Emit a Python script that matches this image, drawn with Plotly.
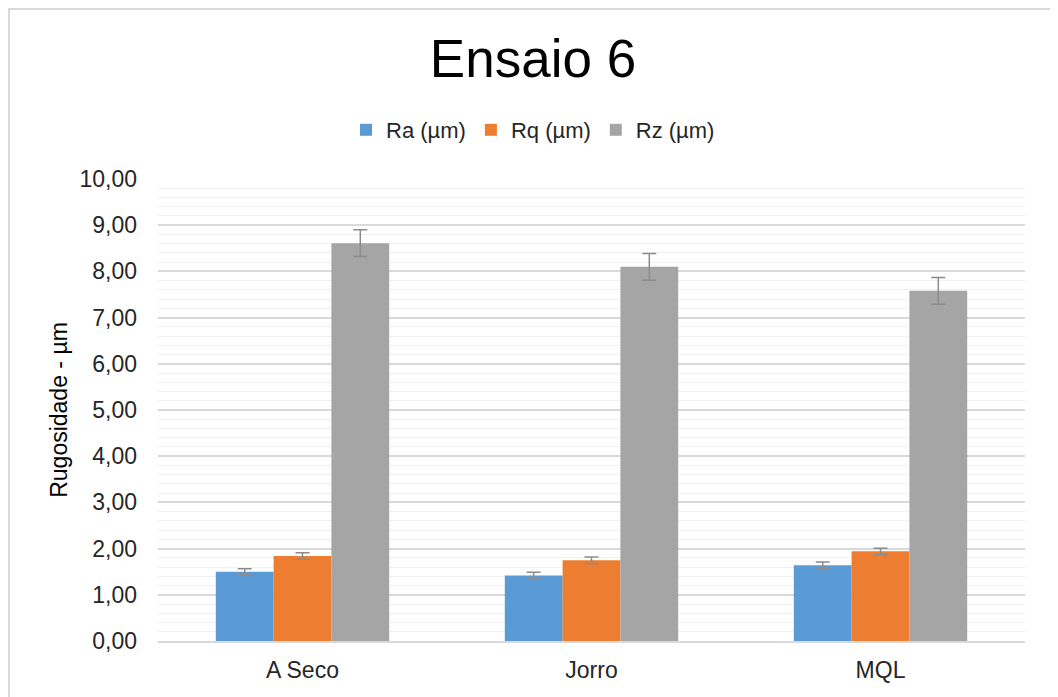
import plotly.graph_objects as go

categories = ["A Seco", "Jorro", "MQL"]
ra = [1.50, 1.42, 1.64]
rq = [1.84, 1.75, 1.94]
rz = [8.61, 8.10, 7.58]
ra_err = [0.065, 0.07, 0.07]
rq_err = [0.07, 0.07, 0.07]
rz_err = [0.29, 0.29, 0.29]
series_names = ["Ra (µm)", "Rq (µm)", "Rz (µm)"]
colors = ["#5B9BD5", "#ED7D31", "#A5A5A5"]
y_ticks = [0, 1, 2, 3, 4, 5, 6, 7, 8, 9, 10]

# page has an 8px body margin; figure sized to fill the remaining window
W, H = 1050, 689
L, R, T, B = 150, 33, 171, 56

fig = go.Figure()
for name, vals, errs, col in zip(series_names, [ra, rq, rz], [ra_err, rq_err, rz_err], colors):
    fig.add_trace(go.Bar(
        x=categories, y=vals, name=name,
        marker=dict(color=col, line=dict(width=0)),
        error_y=dict(type="data", array=errs, visible=True,
                     color="#8C8C8C", thickness=1.5, width=7),
    ))

pw = W - L - R
ph = H - T - B
def px2x(px):
    return (px - L) / pw
def py2y(py):
    return (H - B - py) / ph

fig.update_layout(
    width=W, height=H,
    margin=dict(l=L, r=R, t=T, b=B),
    paper_bgcolor="white", plot_bgcolor="white",
    separators=",.",
    font=dict(family="Liberation Sans, Arial, sans-serif", color="#262626", size=23),
    barmode="group", bargap=0.4, bargroupgap=0,
    title=dict(text="Ensaio 6", x=0.5, xanchor="center", xref="container",
               y=1 - 50 / H, yanchor="middle", yref="container",
               font=dict(size=53, color="#000000")),
    legend=dict(orientation="h", x=525 / W, xanchor="center", xref="container",
                y=1 - 122 / H, yanchor="middle", yref="container",
                font=dict(size=22, color="#262626"),
                itemwidth=30, traceorder="normal"),
    showlegend=True,
    xaxis=dict(showline=True, linecolor="#D9D9D9", linewidth=1.5,
               ticks="", tickfont=dict(size=23, color="#262626"),
               ticklabelstandoff=8, showgrid=False),
    yaxis=dict(range=[0, 10], tickvals=y_ticks, tickformat=".2f",
               showgrid=True, gridcolor="#D9D9D9", gridwidth=1.5,
               minor=dict(dtick=0.2, showgrid=True, gridcolor="#F0F0F0", gridwidth=1),
               zeroline=False, showline=False,
               tickfont=dict(size=23, color="#262626"),
               ticks="", ticklabelstandoff=20,
               title=dict(text="Rugosidade - µm", font=dict(size=23, color="#000000"),
                          standoff=5)),
    shapes=[dict(type="rect", xref="paper", yref="paper",
                 x0=px2x(1), x1=px2x(1045), y0=py2y(700), y1=py2y(1),
                 line=dict(color="#D9D9D9", width=2), fillcolor="rgba(0,0,0,0)",
                 layer="below")],
)

fig.write_html("out.html")
